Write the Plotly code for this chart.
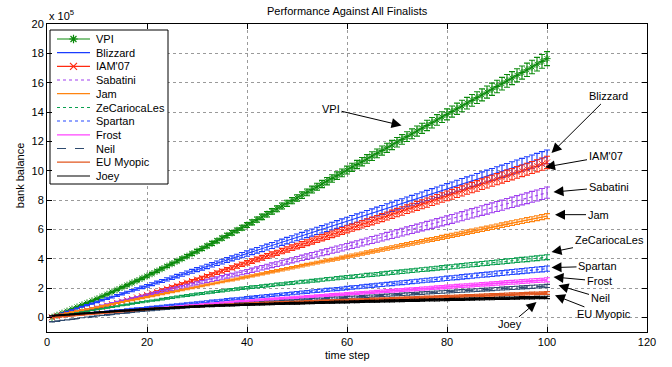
import plotly.graph_objects as go

# ---------------- data (bank balance in units of 1e5) ----------------
time_step = list(range(1, 101))

vpi = [0.00,0.14,0.28,0.42,0.56,0.70,0.84,0.98,1.12,1.26,
       1.42,1.57,1.73,1.88,2.04,2.19,2.35,2.50,2.66,2.81,
       2.98,3.15,3.32,3.49,3.66,3.83,4.00,4.17,4.34,4.51,
       4.69,4.87,5.04,5.22,5.40,5.58,5.76,5.93,6.11,6.29,
       6.48,6.66,6.85,7.03,7.22,7.40,7.59,7.77,7.96,8.14,
       8.33,8.52,8.71,8.90,9.09,9.28,9.47,9.66,9.85,10.04,
       10.23,10.42,10.61,10.80,10.99,11.18,11.37,11.56,11.75,11.94,
       12.13,12.32,12.51,12.70,12.89,13.08,13.27,13.46,13.65,13.84,
       14.03,14.22,14.41,14.60,14.79,14.98,15.17,15.36,15.55,15.74,
       15.93,16.12,16.31,16.50,16.69,16.88,17.07,17.26,17.45,17.64]

blizzard = [0.06,0.17,0.28,0.39,0.50,0.61,0.72,0.83,0.94,1.05,
            1.16,1.27,1.38,1.49,1.60,1.71,1.82,1.93,2.04,2.15,
            2.26,2.37,2.48,2.59,2.70,2.81,2.92,3.03,3.14,3.25,
            3.36,3.47,3.58,3.69,3.80,3.91,4.02,4.13,4.24,4.35,
            4.46,4.57,4.68,4.79,4.90,5.01,5.12,5.23,5.34,5.45,
            5.56,5.67,5.78,5.89,6.00,6.11,6.22,6.33,6.44,6.55,
            6.66,6.77,6.88,6.99,7.10,7.21,7.32,7.43,7.54,7.65,
            7.76,7.87,7.98,8.09,8.20,8.31,8.42,8.53,8.64,8.75,
            8.86,8.97,9.08,9.19,9.30,9.41,9.52,9.63,9.74,9.85,
            9.96,10.07,10.18,10.29,10.40,10.51,10.62,10.73,10.84,10.95]

iam07 = [0.00,0.07,0.14,0.21,0.28,0.35,0.42,0.49,0.56,0.63,
         0.72,0.81,0.90,0.99,1.08,1.17,1.26,1.35,1.44,1.53,
         1.64,1.74,1.85,1.95,2.06,2.16,2.27,2.37,2.48,2.58,
         2.69,2.81,2.92,3.04,3.15,3.26,3.38,3.49,3.61,3.72,
         3.83,3.95,4.06,4.18,4.29,4.40,4.52,4.63,4.75,4.86,
         4.97,5.09,5.20,5.32,5.43,5.54,5.66,5.77,5.89,6.00,
         6.11,6.23,6.34,6.46,6.57,6.68,6.80,6.91,7.03,7.14,
         7.25,7.37,7.48,7.60,7.71,7.82,7.94,8.05,8.17,8.28,
         8.39,8.51,8.62,8.74,8.85,8.96,9.08,9.19,9.31,9.42,
         9.53,9.65,9.76,9.88,9.99,10.10,10.22,10.33,10.45,10.56]

sabatini = [0.00,0.08,0.16,0.24,0.32,0.40,0.48,0.56,0.64,0.72,
            0.80,0.88,0.96,1.04,1.12,1.20,1.28,1.36,1.44,1.52,
            1.60,1.68,1.76,1.84,1.92,2.00,2.08,2.16,2.24,2.32,
            2.40,2.48,2.56,2.64,2.72,2.80,2.88,2.96,3.04,3.12,
            3.21,3.29,3.38,3.46,3.55,3.63,3.72,3.80,3.89,3.97,
            4.06,4.14,4.23,4.31,4.40,4.48,4.57,4.65,4.74,4.82,
            4.91,5.00,5.09,5.18,5.27,5.36,5.45,5.54,5.63,5.72,
            5.81,5.90,5.99,6.08,6.17,6.26,6.35,6.44,6.53,6.62,
            6.71,6.81,6.90,7.00,7.09,7.18,7.28,7.37,7.47,7.56,
            7.65,7.75,7.84,7.94,8.03,8.12,8.22,8.31,8.41,8.50]

jam = [0.07,0.14,0.21,0.28,0.35,0.42,0.48,0.55,0.62,0.69,
       0.76,0.83,0.90,0.97,1.04,1.11,1.17,1.24,1.31,1.38,
       1.45,1.52,1.59,1.66,1.73,1.80,1.86,1.93,2.00,2.07,
       2.14,2.21,2.28,2.35,2.42,2.49,2.55,2.62,2.69,2.76,
       2.83,2.90,2.97,3.04,3.11,3.18,3.24,3.31,3.38,3.45,
       3.52,3.59,3.66,3.73,3.80,3.87,3.93,4.00,4.07,4.14,
       4.21,4.28,4.35,4.42,4.49,4.56,4.62,4.69,4.76,4.83,
       4.90,4.97,5.04,5.11,5.18,5.25,5.31,5.38,5.45,5.52,
       5.59,5.66,5.73,5.80,5.87,5.94,6.00,6.07,6.14,6.21,
       6.28,6.35,6.42,6.49,6.56,6.63,6.69,6.76,6.83,6.90]

zecariocales = [0.00,0.06,0.12,0.18,0.24,0.30,0.36,0.42,0.48,0.54,
                0.60,0.65,0.71,0.76,0.82,0.87,0.93,0.98,1.04,1.09,
                1.14,1.19,1.24,1.29,1.34,1.39,1.44,1.49,1.54,1.59,
                1.63,1.68,1.72,1.76,1.81,1.85,1.89,1.93,1.98,2.02,
                2.06,2.09,2.13,2.16,2.20,2.24,2.27,2.31,2.34,2.38,
                2.42,2.45,2.49,2.52,2.56,2.60,2.63,2.67,2.70,2.74,
                2.77,2.81,2.84,2.88,2.91,2.94,2.98,3.01,3.05,3.08,
                3.11,3.15,3.18,3.22,3.25,3.28,3.32,3.35,3.39,3.42,
                3.45,3.49,3.52,3.56,3.59,3.62,3.66,3.69,3.73,3.76,
                3.79,3.83,3.86,3.90,3.93,3.96,4.00,4.03,4.07,4.10]

spartan = [0.05,0.08,0.12,0.15,0.18,0.22,0.25,0.28,0.31,0.35,
           0.38,0.41,0.45,0.48,0.51,0.55,0.58,0.61,0.64,0.68,
           0.71,0.74,0.78,0.81,0.84,0.88,0.91,0.94,0.97,1.01,
           1.04,1.07,1.11,1.14,1.17,1.21,1.24,1.27,1.30,1.34,
           1.37,1.40,1.44,1.47,1.50,1.54,1.57,1.60,1.63,1.67,
           1.70,1.73,1.77,1.80,1.83,1.87,1.90,1.93,1.96,2.00,
           2.03,2.06,2.10,2.13,2.16,2.20,2.23,2.26,2.29,2.33,
           2.36,2.39,2.43,2.46,2.49,2.53,2.56,2.59,2.62,2.66,
           2.69,2.72,2.76,2.79,2.82,2.86,2.89,2.92,2.95,2.99,
           3.02,3.05,3.09,3.12,3.15,3.19,3.22,3.25,3.28,3.32]

frost = [0.03,0.06,0.09,0.11,0.14,0.17,0.20,0.23,0.25,0.28,
         0.31,0.34,0.37,0.39,0.42,0.45,0.48,0.51,0.53,0.56,
         0.59,0.62,0.65,0.67,0.70,0.73,0.76,0.79,0.81,0.84,
         0.87,0.90,0.93,0.95,0.98,1.01,1.04,1.07,1.09,1.12,
         1.14,1.17,1.19,1.21,1.24,1.26,1.29,1.31,1.33,1.36,
         1.38,1.41,1.43,1.45,1.48,1.50,1.53,1.55,1.57,1.60,
         1.62,1.65,1.67,1.69,1.72,1.74,1.77,1.79,1.81,1.84,
         1.86,1.89,1.91,1.93,1.96,1.98,2.01,2.03,2.05,2.08,
         2.10,2.13,2.15,2.17,2.20,2.22,2.25,2.27,2.29,2.32,
         2.34,2.37,2.39,2.41,2.44,2.46,2.49,2.51,2.53,2.56]

neil = [-0.30,-0.26,-0.21,-0.17,-0.12,-0.08,-0.03,0.02,0.06,0.10,
        0.14,0.18,0.21,0.25,0.28,0.32,0.35,0.39,0.42,0.46,
        0.48,0.51,0.54,0.57,0.60,0.62,0.65,0.68,0.71,0.74,
        0.76,0.78,0.80,0.83,0.85,0.87,0.90,0.92,0.94,0.96,
        0.98,1.00,1.02,1.04,1.06,1.08,1.10,1.12,1.14,1.16,
        1.18,1.20,1.22,1.24,1.26,1.28,1.30,1.32,1.34,1.36,
        1.37,1.39,1.41,1.43,1.45,1.47,1.49,1.51,1.53,1.55,
        1.57,1.59,1.61,1.63,1.65,1.67,1.69,1.71,1.73,1.75,
        1.76,1.78,1.80,1.82,1.84,1.86,1.88,1.90,1.92,1.94,
        1.96,1.98,2.00,2.02,2.04,2.06,2.08,2.10,2.12,2.14]

eu_myopic = [0.00,0.03,0.06,0.09,0.12,0.15,0.18,0.21,0.24,0.27,
             0.30,0.33,0.36,0.39,0.42,0.45,0.48,0.51,0.54,0.57,
             0.59,0.61,0.62,0.64,0.66,0.68,0.70,0.71,0.73,0.75,
             0.77,0.79,0.80,0.82,0.84,0.86,0.88,0.89,0.91,0.93,
             0.94,0.95,0.97,0.98,0.99,1.00,1.02,1.03,1.04,1.05,
             1.06,1.08,1.09,1.10,1.11,1.13,1.14,1.15,1.16,1.17,
             1.19,1.20,1.21,1.22,1.24,1.25,1.26,1.27,1.28,1.30,
             1.31,1.32,1.33,1.35,1.36,1.37,1.38,1.39,1.41,1.42,
             1.43,1.44,1.46,1.47,1.48,1.49,1.50,1.52,1.53,1.54,
             1.55,1.57,1.58,1.59,1.60,1.61,1.63,1.64,1.65,1.66]

joey = [0.10,0.13,0.15,0.18,0.20,0.23,0.26,0.28,0.31,0.33,
        0.36,0.38,0.40,0.43,0.45,0.47,0.49,0.52,0.54,0.56,
        0.58,0.60,0.62,0.63,0.65,0.67,0.69,0.71,0.73,0.74,
        0.76,0.77,0.78,0.80,0.81,0.82,0.83,0.85,0.86,0.87,
        0.88,0.89,0.90,0.91,0.92,0.93,0.94,0.95,0.96,0.96,
        0.97,0.98,0.99,1.00,1.01,1.02,1.03,1.04,1.05,1.05,
        1.06,1.07,1.08,1.09,1.09,1.10,1.11,1.12,1.12,1.13,
        1.14,1.15,1.16,1.16,1.17,1.18,1.19,1.19,1.20,1.21,
        1.22,1.23,1.23,1.24,1.25,1.26,1.26,1.27,1.28,1.29,
        1.30,1.30,1.31,1.32,1.33,1.33,1.34,1.35,1.36,1.36]

series_names = ["VPI", "Blizzard", "IAM'07", "Sabatini", "Jam", "ZeCariocaLes",
                "Spartan", "Frost", "Neil", "EU Myopic", "Joey"]
series_values = [vpi, blizzard, iam07, sabatini, jam, zecariocales,
                 spartan, frost, neil, eu_myopic, joey]
# error bar size, percent of the value (read at the last time step)
error_pct = [2.7, 4.2, 4.0, 4.5, 2.5, 4.0, 5.5, 5.5, 5.0, 5.5, 6.0]

x_ticks = [0, 20, 40, 60, 80, 100, 120]
y_ticks = [0, 2, 4, 6, 8, 10, 12, 14, 16, 18, 20]

# callout labels: text position and arrow tip, in data units
callout_text = ["VPI", "Blizzard", "IAM'07", "Sabatini", "Jam", "ZeCariocaLes",
                "Spartan", "Frost", "Neil", "EU Myopic", "Joey"]
callout_text_x = [56.8, 112.3, 111.7, 112.3, 110.2, 112.4, 110.1, 110.4, 110.6, 111.3, 92.6]
callout_text_y = [14.22, 15.06, 10.97, 8.88, 7.00, 5.25, 3.48, 2.47, 1.34, 0.20, -0.48]
callout_tip_x = [70.9, 100.9, 99.6, 101.3, 101.6, 100.9, 100.9, 101.3, 102.3, 101.6, 97.9]
callout_tip_y = [13.08, 11.20, 10.24, 8.54, 7.00, 4.45, 3.39, 2.75, 2.18, 1.50, 1.04]

# ---------------- styles ----------------
FONT = "Liberation Sans, Arial, Helvetica, sans-serif"
colors = ["#0b8a0b", "#1a3cff", "#ff2a10", "#a040f0", "#ff8410", "#0aa050",
          "#2448ff", "#ff44ff", "#2e4a6e", "#e2561e", "#000000"]
dashes = ["solid", "solid", "solid", "dot", "solid", "dot",
          "dot", "solid", "dash", "solid", "solid"]
line_widths = [1.1, 1.1, 1.1, 1.1, 1.5, 1.1, 1.1, 1.8, 1.2, 1.8, 2.0]
symbols = ["asterisk-open", None, "x-thin-open", None, None, None,
           None, None, None, None, None]

fig = go.Figure()

for name, vals, pct, c, d, lw, s in zip(series_names, series_values, error_pct,
                                         colors, dashes, line_widths, symbols):
    tr = dict(x=time_step, y=vals, name=name, showlegend=False, hoverinfo="skip",
              line=dict(color=c, width=lw, dash=d),
              error_y=dict(type="percent", value=pct, color=c, thickness=1.1, width=3))
    if s:
        tr["mode"] = "lines+markers"
        tr["marker"] = dict(symbol=s, size=6, color=c, line=dict(color=c, width=1))
    else:
        tr["mode"] = "lines"
    fig.add_trace(go.Scatter(**tr))

# ---------------- custom legend on a pixel-scaled overlay axis ----------------
LEG_BOX = (50, 168, 30, 184)
LEG_ROWS = [39, 52.7, 66.3, 80, 93.7, 107.5, 121, 134.8, 148.5, 162.2, 176]
LEG_X0, LEG_X1, LEG_TX = 57, 90, 94

fig.add_trace(go.Scatter(
    x=[LEG_BOX[0], LEG_BOX[1], LEG_BOX[1], LEG_BOX[0], LEG_BOX[0]],
    y=[LEG_BOX[2], LEG_BOX[2], LEG_BOX[3], LEG_BOX[3], LEG_BOX[2]],
    mode="lines", fill="toself", fillcolor="white",
    line=dict(color="black", width=1), xaxis="x2", yaxis="y2",
    showlegend=False, hoverinfo="skip"))

annotations = []
for name, ry, c, d, s in zip(series_names, LEG_ROWS, colors, dashes, symbols):
    fig.add_trace(go.Scatter(x=[LEG_X0, LEG_X1], y=[ry, ry], mode="lines",
                             line=dict(color=c, width=1.2, dash=d),
                             xaxis="x2", yaxis="y2", showlegend=False, hoverinfo="skip"))
    if s:
        fig.add_trace(go.Scatter(x=[(LEG_X0 + LEG_X1) / 2], y=[ry], mode="markers",
                                 marker=dict(symbol=s, size=7, color=c, line=dict(color=c, width=1.2)),
                                 xaxis="x2", yaxis="y2", showlegend=False, hoverinfo="skip"))
    annotations.append(dict(x=LEG_TX, y=ry, xref="x2", yref="y2", text=name,
                            showarrow=False, xanchor="left", yanchor="middle",
                            font=dict(size=11, color="black", family=FONT)))

for t, tx, ty, px, py in zip(callout_text, callout_text_x, callout_text_y,
                             callout_tip_x, callout_tip_y):
    annotations.append(dict(x=px, y=py, xref="x", yref="y", ax=tx, ay=ty,
                            axref="x", ayref="y", text=t, showarrow=True,
                            arrowhead=2, arrowsize=2, arrowwidth=1,
                            arrowcolor="black", standoff=0,
                            font=dict(size=11, color="black", family=FONT)))

annotations += [
    dict(x=0.5, y=1.042, xref="paper", yref="paper", text="Performance Against All Finalists",
         showarrow=False, xanchor="center", yanchor="middle",
         font=dict(size=11, color="black", family=FONT)),
    dict(x=0.5, y=-0.075, xref="paper", yref="paper", text="time step",
         showarrow=False, xanchor="center", yanchor="middle",
         font=dict(size=11, color="black", family=FONT)),
    dict(x=-0.045, y=0.506, xref="paper", yref="paper", text="bank balance",
         showarrow=False, xanchor="center", yanchor="middle", textangle=-90,
         font=dict(size=11, color="black", family=FONT)),
    dict(x=0.0, y=1.03, xref="paper", yref="paper", text="x 10<sup>5</sup>",
         showarrow=False, xanchor="left", yanchor="middle",
         font=dict(size=11, color="black", family=FONT)),
]

axis_common = dict(showline=True, linecolor="black", linewidth=1, mirror="ticks",
                   ticks="inside", ticklen=5, tickcolor="black", tickwidth=1,
                   showgrid=True, gridcolor="#9a9a9a", griddash="dot", gridwidth=1,
                   zeroline=False, automargin=False,
                   tickfont=dict(size=11, color="black", family=FONT))

fig.update_layout(
    width=672, height=367,
    margin=dict(l=47, r=25, t=24, b=35, pad=0),
    paper_bgcolor="white", plot_bgcolor="white",
    font=dict(family=FONT, size=11, color="black"),
    xaxis=dict(range=[0, 120], tickvals=x_ticks, **axis_common),
    yaxis=dict(range=[-1, 20], tickvals=y_ticks, **axis_common),
    xaxis2=dict(overlaying="x", anchor="y2", range=[47, 647], visible=False,
                fixedrange=True, automargin=False),
    yaxis2=dict(overlaying="y", anchor="x2", range=[332, 24], visible=False,
                fixedrange=True, automargin=False),
    annotations=annotations,
    showlegend=False,
)

fig.write_html("out.html", config={"displayModeBar": False},
               post_script="document.body.style.margin='0px';document.body.style.padding='0px';")
